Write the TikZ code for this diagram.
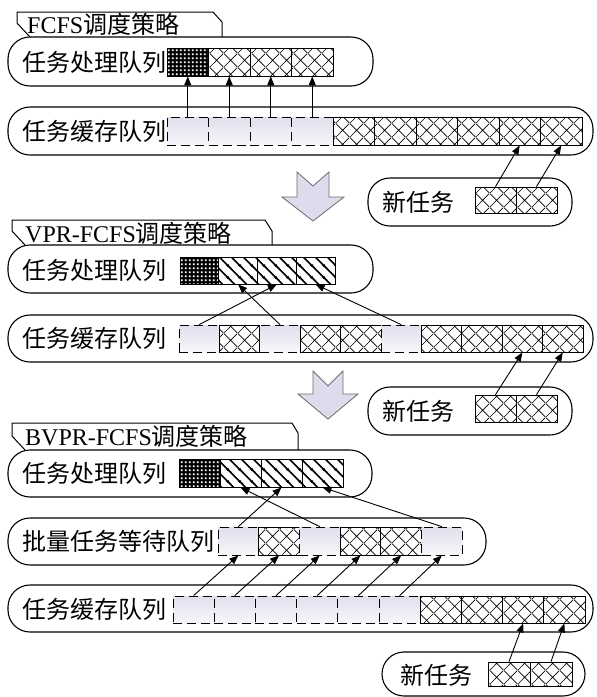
\documentclass[tikz,border=0pt]{standalone}
\usepackage{fontspec}
\setmainfont{Liberation Serif}
\newfontfamily\cjk{Noto Sans CJK SC}
\usetikzlibrary{arrows.meta,patterns,patterns.meta,calc}
\definecolor{lav}{RGB}{224,224,238}
\definecolor{lavlight}{RGB}{246,246,250}
\definecolor{arrfill}{RGB}{220,220,236}
\tikzdeclarepattern{
  name=xmesh, type=uncolored,
  bottom left={(0pt,0pt)}, top right={(14pt,14pt)}, tile size={(14pt,14pt)},
  code={\draw[line width=0.7pt] (0pt,0pt)--(14pt,14pt) (0pt,14pt)--(14pt,0pt);}
}
\tikzdeclarepattern{
  name=bhatch, type=uncolored,
  bottom left={(0pt,0pt)}, top right={(12pt,12pt)}, tile size={(12pt,12pt)},
  code={\draw[line width=1.7pt] (-1pt,13pt)--(13pt,-1pt) (-1pt,1pt)--(1pt,-1pt) (11pt,13pt)--(13pt,11pt);}
}
\tikzdeclarepattern{
  name=wdots, type=uncolored,
  bottom left={(0pt,0pt)}, top right={(4.2pt,4.2pt)}, tile size={(4.2pt,4.2pt)},
  code={\fill (1pt,1pt) rectangle (3pt,3pt);}
}
\tikzset{
  capsule/.style={draw, line width=1.1pt, rounded corners=22pt},
  tabshape/.style={draw, line width=1pt},
  cellbase/.style={rectangle, inner sep=0pt, line width=0.8pt},
  cdark/.style={cellbase, preaction={fill=black}, pattern=wdots, pattern color=white, draw},
  cmesh/.style={cellbase, pattern=xmesh, pattern color=black, draw},
  chatch/.style={cellbase, pattern=bhatch, pattern color=black, draw},
  cempty/.style={cellbase, top color=lav, bottom color=lavlight, draw, dash pattern=on 9pt off 5pt},
  arr/.style={-{Triangle[length=9pt,width=7pt]}, line width=0.9pt},
  barrow/.style={draw=gray!85!black, line width=0.8pt, fill=arrfill},
  lbl/.style={anchor=west, inner sep=0pt, font=\fontsize{24}{26}\selectfont\cjk},
  ttl/.style={anchor=west, inner sep=0pt, font=\fontsize{24}{26}\selectfont},
}
\begin{document}
\begin{tikzpicture}[x=1pt,y=-1pt]
\useasboundingbox[fill=white] (0,0) rectangle (597,697);

% ===== Section 1: FCFS =====
\draw[tabshape] (30,37) -- (17,23) -- (17,12) -- (213,12) -- (222,22) -- (222,37);
\node[ttl] (t1) at (27,24) {FCFS{\cjk 调度策略}};
\draw[capsule] (8,37) rectangle (373,86);
\node[lbl] (lp1) at (22,62) {任务处理队列};
\foreach \t [count=\i from 0] in {cdark,cmesh,cmesh,cmesh}
  \node[\t, minimum width=41.5pt, minimum height=28pt] (pA\i) at ({167+41.5*\i+20.75},62) {};
\draw[capsule] (8,107) rectangle (593,155);
\node[lbl] (lc1) at (22,131) {任务缓存队列};
\foreach \t [count=\i from 0] in {cempty,cempty,cempty,cempty,cmesh,cmesh,cmesh,cmesh,cmesh,cmesh}
  \node[\t, minimum width=41.5pt, minimum height=28pt] (cA\i) at ({167+41.5*\i+20.75},131) {};
\foreach \i in {0,...,3} \draw[arr] (cA\i.north) -- (pA\i.south);
\draw[barrow] (297,172) -- (313,186) -- (329,172) -- (329,197) -- (344,197) -- (313,221) -- (282,197) -- (297,197) -- cycle;
\draw[capsule] (368,178) rectangle (572,226);
\node[lbl] (ln1) at (382,202) {新任务};
\node[cmesh, minimum width=41pt, minimum height=26pt] (nA0) at (495.5,200) {};
\node[cmesh, minimum width=41pt, minimum height=26pt] (nA1) at (536.5,200) {};
\draw[arr] (nA0.north) -- (cA8.south);
\draw[arr] (nA1.north) -- (cA9.south);

% ===== Section 2: VPR-FCFS =====
\draw[tabshape] (25,245) -- (12,231) -- (12,220) -- (265,220) -- (272,231) -- (272,245);
\node[ttl] (t2) at (25,233) {VPR-FCFS{\cjk 调度策略}};
\draw[capsule] (8,245) rectangle (373,293);
\node[lbl] (lp2) at (22,270) {任务处理队列};
\foreach \t [count=\i from 0] in {cdark,chatch,chatch,chatch}
  \node[\t, minimum width=38.75pt, minimum height=27pt] (pB\i) at ({180+38.75*\i+19.375},270.5) {};
\draw[capsule] (8,315) rectangle (593,362);
\node[lbl] (lc2) at (22,338.5) {任务缓存队列};
\foreach \t [count=\i from 0] in {cempty,cmesh,cempty,cmesh,cmesh,cempty,cmesh,cmesh,cmesh,cmesh}
  \node[\t, minimum width=40.4pt, minimum height=27pt] (cB\i) at ({179+40.4*\i+20.2},338.5) {};
\draw[arr] (cB0.north) -- (pB2.south);
\draw[arr] (cB2.north) -- (pB1.south);
\draw[arr] (cB5.north) -- (pB3.south);
\draw[barrow] (313,371) -- (328,386) -- (343,371) -- (343,394) -- (358,394) -- (328,419) -- (298,394) -- (313,394) -- cycle;
\draw[capsule] (368,387) rectangle (572,435);
\node[lbl] (ln2) at (382,411) {新任务};
\node[cmesh, minimum width=41pt, minimum height=27pt] (nB0) at (495.5,408.5) {};
\node[cmesh, minimum width=41pt, minimum height=27pt] (nB1) at (536.5,408.5) {};
\draw[arr] (nB0.north) -- (cB8.south);
\draw[arr] (nB1.north) -- (cB9.south);

% ===== Section 3: BVPR-FCFS =====
\draw[tabshape] (25,450) -- (12,436) -- (12,423) -- (292,423) -- (298,433) -- (298,450);
\node[ttl] (t3) at (25,436) {BVPR-FCFS{\cjk 调度策略}};
\draw[capsule] (8,450) rectangle (372,497);
\node[lbl] (lp3) at (22,473) {任务处理队列};
\foreach \t [count=\i from 0] in {cdark,chatch,chatch,chatch}
  \node[\t, minimum width=41pt, minimum height=28pt] (pC\i) at ({179+41*\i+20.5},473) {};
\draw[capsule] (8,518) rectangle (486,565);
\node[lbl] (lb3) at (22,541) {批量任务等待队列};
\foreach \t [count=\i from 0] in {cempty,cmesh,cempty,cmesh,cmesh,cempty}
  \node[\t, minimum width=40.7pt, minimum height=28pt] (bC\i) at ({218+40.7*\i+20.35},541) {};
\draw[capsule] (8,585) rectangle (593,632);
\node[lbl] (lc3) at (22,609.5) {任务缓存队列};
\foreach \t [count=\i from 0] in {cempty,cempty,cempty,cempty,cempty,cempty,cmesh,cmesh,cmesh,cmesh}
  \node[\t, minimum width=41.2pt, minimum height=27pt] (cC\i) at ({173+41.2*\i+20.6},609.5) {};
\draw[arr] (bC0.north) -- (pC2.south);
\draw[arr] (bC2.north) -- (pC1.south);
\draw[arr] (bC5.north) -- (pC3.south);
\foreach \i in {0,...,5} \draw[arr] (cC\i.north) -- (bC\i.south);
\draw[capsule] (382,652) rectangle (585,696);
\node[lbl] (ln3) at (400,675) {新任务};
\node[cmesh, minimum width=42pt, minimum height=24pt] (nC0) at (509,674) {};
\node[cmesh, minimum width=42pt, minimum height=24pt] (nC1) at (551,674) {};
\draw[arr] (nC0.north) -- (cC8.south);
\draw[arr] (nC1.north) -- (cC9.south);
\end{tikzpicture}
\end{document}
